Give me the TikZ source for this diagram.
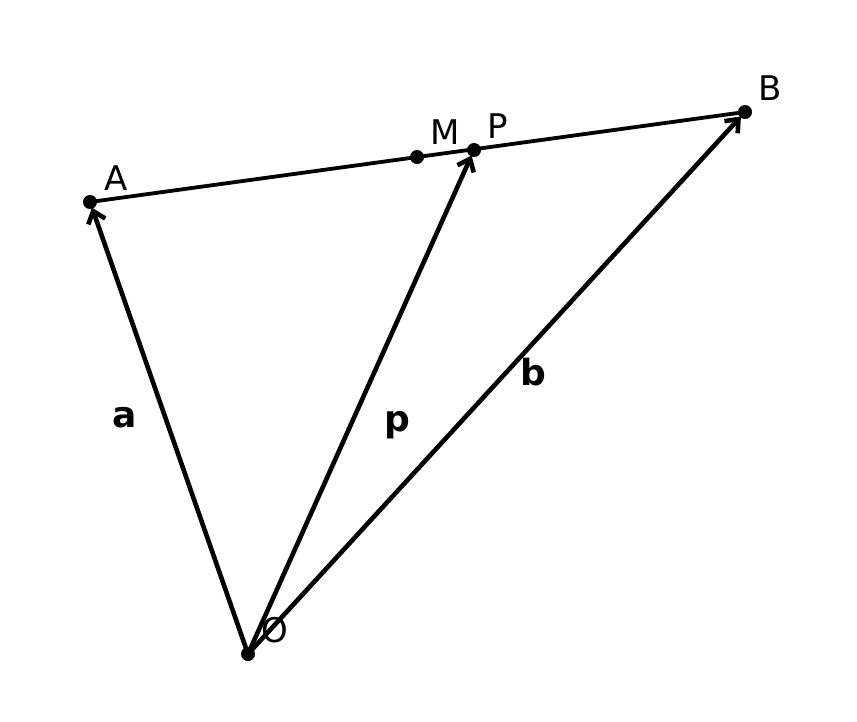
\documentclass[tikz,border=0pt]{standalone}
\usepackage{fontspec}
\setmainfont{DejaVu Sans}
\usetikzlibrary{arrows.meta}

\begin{document}
\begin{tikzpicture}[x=1pt,y=-1pt,
    vec/.style={line width=4.6pt,-{Straight Barb[length=11pt,width=18pt,line width=4.6pt]},shorten >=6pt},
    dot/.style={circle,fill,inner sep=0pt,minimum size=14pt},
    lbl/.style={font=\fontsize{34}{36}\selectfont},
    vlbl/.style={font=\fontsize{36}{38}\selectfont\bfseries}] %% pixel units
    \useasboundingbox (0,0) rectangle (857,721);

    \node[dot] (O) at (248,654) {};
    \node[dot] (A) at (90,202) {};
    \node[dot] (B) at (745,112) {};
    \node[dot] (M) at (417,157) {};
    \node[dot] (P) at (474,150) {};

    \draw[line width=3.8pt] (A.center) -- (B.center);

    \draw[vec] (O.center) -- (A.center);
    \draw[vec] (O.center) -- (P.center);
    \draw[vec] (O.center) -- (B.center);

    \node[lbl] (labA) at (116,178) {A};
    \node[lbl] (labB) at (770,88) {B};
    \node[lbl] (labM) at (445,132) {M};
    \node[lbl] (labP) at (498,126) {P};
    \node[lbl] (labO) at (275,630) {O};

    \node[vlbl] (veca) at (125,418) {a};
    \node[vlbl] (vecp) at (397,425) {p};
    \node[vlbl] (vecb) at (533,372) {b};
\end{tikzpicture}
\end{document}
